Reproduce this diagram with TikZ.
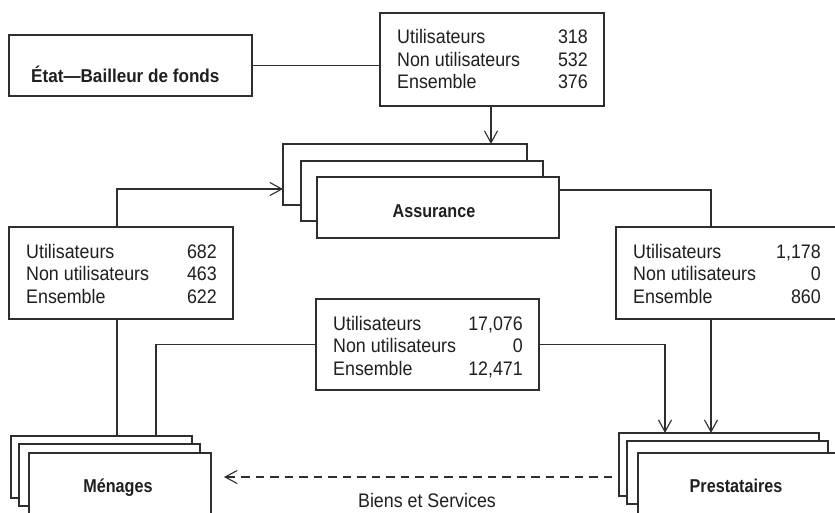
\documentclass[tikz,border=0pt]{standalone}
\usepackage{fontspec}
\setmainfont[FakeStretch=0.91]{Liberation Sans}
\newfontfamily\boldcond[FakeStretch=0.87]{Liberation Sans}
\newfontfamily\boldcondw[FakeStretch=0.92]{Liberation Sans}
\usetikzlibrary{arrows.meta,calc}
\begin{document}
\begin{tikzpicture}[x=1pt,y=-1pt,
  ln/.style={line width=1.25pt, draw=black!82},
  box/.style={ln, fill=white, rectangle, inner sep=0pt, outer sep=0pt, anchor=north west},
  lbl/.style={font=\fontsize{19.6}{22}\selectfont, text=black!88, inner sep=0pt},
  bld/.style={font=\boldcond\fontsize{18.6}{21}\selectfont\bfseries, text=black!88, inner sep=0pt},
  bldw/.style={font=\boldcondw\fontsize{18.6}{21}\selectfont\bfseries, text=black!88, inner sep=0pt},
  arr/.style={ln, -{Straight Barb[length=12pt,width=13pt,line width=1.1pt]}},
  dsh/.style={dash pattern=on 8.5pt off 6pt},
]
\useasboundingbox (0,0) rectangle (835,513);
\clip (0,0) rectangle (835,513);
\fill[white] (0,0) rectangle (835,513);

\newcommand\statbox[8]{%
  \node[box, minimum width=#4, minimum height=#5] (#1) at (#2,#3) {};
  \node[lbl, anchor=base west] (#1-a) at ($(#1.north west)+(17,31)$) {Utilisateurs};
  \node[lbl, anchor=base west] (#1-b) at ($(#1.north west)+(17,53.5)$) {Non utilisateurs};
  \node[lbl, anchor=base west] (#1-c) at ($(#1.north west)+(17,76)$) {Ensemble};
  \node[lbl, anchor=base east] (#1-x) at ($(#1.north east)+(-16,31)$) {#6};
  \node[lbl, anchor=base east] (#1-y) at ($(#1.north east)+(-16,53.5)$) {#7};
  \node[lbl, anchor=base east] (#1-z) at ($(#1.north east)+(-16,76)$) {#8};
}

% Etat
\node[box, minimum width=243, minimum height=61] (etat) at (9,35) {};
\node[bldw, anchor=base west] (etatT) at (31,83) {État—Bailleur de fonds};

% stat boxes
\statbox{top}{380}{13}{224}{93}{318}{532}{376}
\statbox{left}{9}{227}{224}{92}{682}{463}{622}
\statbox{mid}{316}{299}{223}{91}{17,076}{0}{12,471}
\statbox{right}{616}{227}{221}{92}{1,178}{0}{860}

% Assurance stack
\node[box, minimum width=244, minimum height=61] (asB) at (283,144) {};
\node[box, minimum width=242, minimum height=60] (asM) at (301,161) {};
\node[box, minimum width=242, minimum height=61] (asF) at (317,177) {};
\node[bld, anchor=base] (asT) at (434,218) {Assurance};

% Menages stack
\node[box, minimum width=181, minimum height=62] (menB) at (11,436) {};
\node[box, minimum width=181, minimum height=62] (menM) at (19,444) {};
\node[box, minimum width=182, minimum height=80] (menF) at (29,453) {};
\node[bld, anchor=base] (menT) at (118,492) {Ménages};

% Prestataires stack
\node[box, minimum width=200, minimum height=63] (presB) at (619,433) {};
\node[box, minimum width=201, minimum height=63] (presM) at (627,441) {};
\node[box, minimum width=210, minimum height=80] (presF) at (638,453) {};
\node[bld, anchor=base] (presT) at (736,492) {Prestataires};

% helper coordinates
\coordinate (c1) at (491,0);
\coordinate (c2) at (117,0);
\coordinate (c3) at (0,189);
\coordinate (c4) at (0,190);
\coordinate (c5) at (711,0);
\coordinate (c6) at (156,0);
\coordinate (c7) at (665,0);
\coordinate (c8) at (0,477);

% connectors
\draw[ln] (etat.east) -- (etat.east -| top.west);
\draw[arr] (top.south -| c1) -- (asB.north -| c1);
\draw[arr] (left.north -| c2) |- (asB.west |- c3);
\draw[ln] (asF.east |- c4) -| (right.north -| c5);
\draw[ln] (left.south -| c2) -- (menB.north -| c2);
\draw[ln] (mid.west) -| (menB.north -| c6);
\draw[arr] (mid.east) -| (presB.north -| c7);
\draw[arr] (right.south -| c5) -- (presB.north -| c5);
\draw[ln, dsh, -{Straight Barb[length=12pt,width=13pt,line width=1.1pt]}]
  ($(presB.west |- c8)+(-7,0)$) -- ($(menF.east |- c8)+(13,0)$);
\node[lbl, anchor=base] (biens) at (427,507) {Biens et Services};
\end{tikzpicture}
\end{document}
